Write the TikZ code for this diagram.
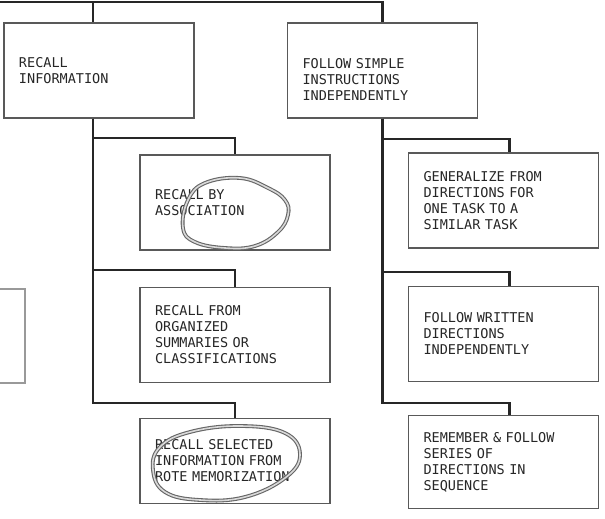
\documentclass[tikz,border=0pt]{standalone}
\usepackage{fontspec}
\setmonofont{DejaVu Sans Mono}
\usetikzlibrary{positioning}

\begin{document}
\begin{tikzpicture}[x=1pt,y=-1pt,
                    task node/.style={rectangle,draw=black!65,line width=1.2pt,text=black!85,
                      font=\ttfamily\fontsize{13.5}{16}\selectfont,align=left,
                      text width=160pt,inner xsep=15pt,minimum height=95pt},
                    link/.style={draw=black!85,line width=2.4pt},
                    pencil/.style={draw=black!60,double=black!15,double distance=1.6pt,line width=1.1pt}]
  \useasboundingbox (0,0) rectangle (605,519);
  % top level
  \node[task node] (recall) at (99,70.5) {RECALL\\INFORMATION};
  \node[task node] (follow) at (382.5,70.5) {\rule{0pt}{28pt}FOLLOW SIMPLE\\INSTRUCTIONS\\INDEPENDENTLY};
  \node[draw=black!40,line width=1.2pt,minimum width=60pt,minimum height=94pt] (offpage) at (-5,336) {};
  % left column
  \node[task node] (assoc) at (235,202.5) {RECALL BY\\ASSOCIATION};
  \node[task node] (summary) [below=36pt of assoc] {RECALL FROM\\ORGANIZED\\SUMMARIES OR\\CLASSIFICATIONS};
  \node[task node,minimum height=85pt] (rote) [below=35pt of summary] {RECALL SELECTED\\INFORMATION FROM\\ROTE MEMORIZATION};
  % right column
  \node[task node] (gen) at (503.5,200.5) {GENERALIZE FROM\\DIRECTIONS FOR\\ONE TASK TO A\\SIMILAR TASK};
  \node[task node] (written) [below=37pt of gen] {FOLLOW WRITTEN\\DIRECTIONS\\INDEPENDENTLY};
  \node[task node,minimum height=93pt] (series) [below=33pt of written] {REMEMBER \& FOLLOW\\SERIES OF\\DIRECTIONS IN\\SEQUENCE};

  \coordinate (root) at (-10,2);
  \coordinate (ltop) at ([xshift=-6pt]recall.north);
  \coordinate (lbot) at ([xshift=-6pt]recall.south);
  \draw[link] (root) -| (follow.north);
  \draw[link] (ltop |- root) -- (ltop);
  \foreach \child/\bend in {assoc/138,summary/270,rote/403}
    \draw[link] (lbot) |- (\child.north |- 0,\bend) -- (\child.north);
  \foreach \child/\bend in {gen/139,written/272,series/403} {
    \coordinate (drop) at ([xshift=6pt]\child.north);
    \draw[link] (follow.south) |- (drop |- 0,\bend) -- (drop);
  }

  % pencil marks
  \draw[pencil] plot[smooth cycle,tension=0.7] coordinates
    {(205,183) (240,178) (268,188) (285,200) (288,215) (278,232) (255,246) (225,248) (195,242) (183,228) (188,200)};
  \draw[pencil] plot[smooth cycle,tension=0.7] coordinates
    {(160,447) (190,432) (240,426) (285,433) (300,455) (285,478) (245,497) (200,500) (165,492) (153,470)};
\end{tikzpicture}
\end{document}
